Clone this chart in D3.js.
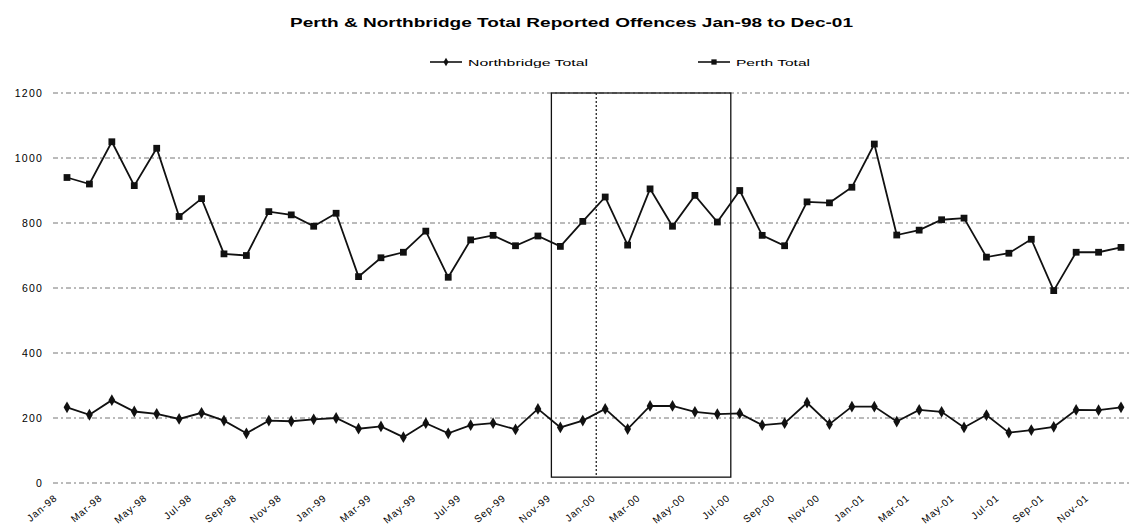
<!DOCTYPE html>
<html>
<head>
<meta charset="utf-8">
<script src="https://cdn.jsdelivr.net/npm/d3@7"></script>
<style>
  body { margin: 0; background: #fff; }
  svg { display: block; font-family: "Liberation Sans", Arial, sans-serif; }
</style>
</head>
<body>
<svg id="chart" width="1129" height="532"></svg>
<script>
// Monthly totals, Jan-98 .. Dec-01
const months = [];
["98", "99", "00", "01"].forEach(yr => {
    ["Jan", "Feb", "Mar", "Apr", "May", "Jun", "Jul", "Aug", "Sep", "Oct", "Nov", "Dec"]
        .forEach(m => months.push(m + "-" + yr));
});

const perthTotal = [
    940, 920, 1050, 915, 1030, 820, 875, 705, 700, 835, 825, 790,
    830, 635, 693, 710, 775, 633, 748, 762, 730, 760, 728, 805,
    880, 732, 905, 790, 885, 803, 900, 762, 730, 865, 862, 910,
    1043, 763, 778, 810, 815, 695, 707, 750, 592, 710, 710, 725
];

const northbridgeTotal = [
    233, 210, 255, 220, 213, 197, 216, 192, 153, 192, 190, 196,
    200, 167, 174, 141, 184, 153, 178, 184, 165, 228, 171, 192,
    228, 166, 237, 237, 219, 212, 214, 178, 184, 247, 181, 235,
    235, 189, 225, 219, 171, 209, 155, 163, 173, 225, 224, 233
];

const yTicks = [0, 200, 400, 600, 800, 1000, 1200];

// highlighted period (month index units) and the dotted marker
const boxStart = 21.6, boxEnd = 29.6, boxLow = 18, boxHigh = 1200;
const markerAt = 23.6;

const svg = d3.select("#chart");

const x = d3.scaleLinear().domain([0, months.length - 1]).range([67, 1121]);
const y = d3.scaleLinear().domain([0, 1200]).range([483, 93]);

// title
svg.append("text")
    .attr("x", 290).attr("y", 27)
    .attr("textLength", 563).attr("lengthAdjust", "spacingAndGlyphs")
    .style("font-size", "12px").style("font-weight", "bold")
    .text("Perth & Northbridge Total Reported Offences Jan-98 to Dec-01");

// gridlines + y labels
const yAxis = svg.append("g");
yAxis.selectAll("line")
    .data(yTicks)
    .enter()
    .append("line")
    .attr("x1", 53).attr("x2", 1129)
    .attr("y1", d => y(d)).attr("y2", d => y(d))
    .style("stroke", "#777")
    .style("stroke-width", 1)
    .style("stroke-dasharray", "5,3,2,3");

yAxis.selectAll("text")
    .data(yTicks)
    .enter()
    .append("text")
    .attr("x", 43).attr("y", d => y(d) + 4)
    .attr("text-anchor", "end")
    .style("font-size", "10.5px")
    .style("letter-spacing", "1.2px")
    .text(d => d);

// x labels, every other month
svg.append("g").selectAll("text")
    .data(months.filter((m, i) => i % 2 === 0))
    .enter()
    .append("text")
    .attr("transform", (d, i) => `translate(${x(i * 2) - 9},${499}) rotate(-40)`)
    .attr("text-anchor", "end")
    .style("font-size", "10px")
    .style("letter-spacing", "0.9px")
    .text(d => d);

// highlight box and dotted line
svg.append("rect")
    .attr("x", x(boxStart)).attr("y", y(boxHigh))
    .attr("width", x(boxEnd) - x(boxStart))
    .attr("height", y(boxLow) - y(boxHigh))
    .style("fill", "none").style("stroke", "#111").style("stroke-width", 1.3);

svg.append("line")
    .attr("x1", x(markerAt)).attr("x2", x(markerAt))
    .attr("y1", y(boxHigh)).attr("y2", y(boxLow))
    .style("stroke", "#111").style("stroke-width", 1.2)
    .style("stroke-dasharray", "2,2");

// series
const line = d3.line().x((d, i) => x(i)).y(d => y(d));

function drawSeries(values, symbolType, size) {
    const g = svg.append("g");
    g.append("path")
        .datum(values)
        .attr("d", line)
        .style("fill", "none").style("stroke", "#111").style("stroke-width", 1.8);
    g.selectAll("path.pt")
        .data(values)
        .enter()
        .append("path")
        .attr("class", "pt")
        .attr("transform", (d, i) => `translate(${x(i)},${y(d)})`)
        .attr("d", d3.symbol().type(symbolType).size(size))
        .style("fill", "#111");
}

drawSeries(perthTotal, d3.symbolSquare, 46);
drawSeries(northbridgeTotal, d3.symbolDiamond, 40);

// legend
const legendItems = [
    { label: "Northbridge Total", x: 430, symbol: d3.symbolDiamond, size: 22, w: 120 },
    { label: "Perth Total", x: 698, symbol: d3.symbolSquare, size: 28, w: 74 }
];
const legend = svg.append("g");
legendItems.forEach(item => {
    const lg = legend.append("g").attr("transform", `translate(${item.x},62)`);
    lg.append("line").attr("x1", 0).attr("x2", 32).attr("y1", 0).attr("y2", 0)
        .style("stroke", "#111").style("stroke-width", 1.6);
    lg.append("path").attr("transform", "translate(16,0)")
        .attr("d", d3.symbol().type(item.symbol).size(item.size))
        .style("fill", "#111");
    lg.append("text").attr("x", 38).attr("y", 3.5)
        .attr("textLength", item.w).attr("lengthAdjust", "spacingAndGlyphs")
        .style("font-size", "9.5px")
        .text(item.label);
});
</script>
</body>
</html>
